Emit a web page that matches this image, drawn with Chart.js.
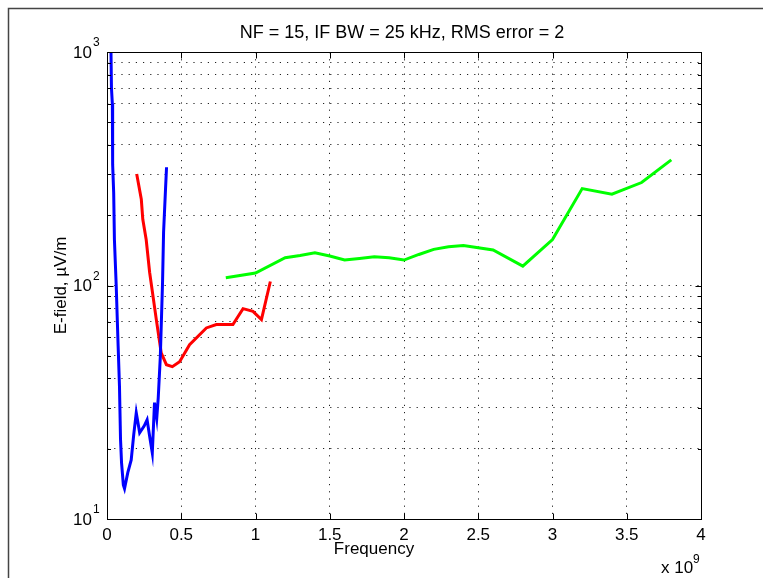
<!DOCTYPE html>
<html lang="en">

<head>
    <meta charset="UTF-8">
    <title>E-field vs Frequency</title>
    <script src="https://cdn.jsdelivr.net/npm/chart.js"></script>
    <style>
        body { margin: 0; background: #fff; }
        canvas { display: block; }
    </style>
</head>

<body>
    <canvas id="efield" width="763" height="578"></canvas>

    <script>
        // frequency in units of 1e9 Hz, field strength in uV/m
        var blueFreq = [0.026, 0.030, 0.036, 0.038, 0.045, 0.050, 0.062, 0.075, 0.084, 0.091, 0.098, 0.110, 0.118,
            0.140, 0.163, 0.180, 0.197, 0.220, 0.250, 0.270, 0.290, 0.305, 0.320, 0.335, 0.345, 0.359, 0.374, 0.381, 0.394, 0.401];
        var blueField = [1100, 700, 600, 330, 250, 157, 100, 55, 37, 22, 17.4, 14, 13.5,
            15.8, 17.9, 23, 28.5, 23.4, 25, 26.6, 22, 19.2, 31.5, 27, 33, 49.5, 103, 169, 258, 321];

        var redFreq = [0.200, 0.231, 0.241, 0.264, 0.287, 0.332, 0.365, 0.400, 0.440, 0.489, 0.556, 0.669, 0.736, 0.848,
            0.916, 0.983, 1.040, 1.100];
        var redField = [300, 234, 192, 157, 114, 71.5, 51.5, 45.8, 44.9, 47.2, 55.8, 65.8, 68, 68,
            79.6, 77.5, 71.5, 104];

        var greenFreq = [0.8, 1.0, 1.2, 1.3, 1.4, 1.5, 1.6, 1.7, 1.8, 1.9, 2.0, 2.1, 2.2, 2.3, 2.4, 2.6, 2.8, 3.0, 3.2, 3.4, 3.6, 3.8];
        var greenField = [108, 113, 131.6, 134.5, 138, 133.7, 128.5, 130.6, 132.8, 131.6, 128.5, 135.8, 142.8, 146.6,
            148.5, 141.9, 121, 157.4, 260, 246, 276, 345];

        var xTickStep = 0.5;
        var yTickValues = [10, 100, 1000];
        var yTickExps = ['1', '2', '3'];
        var yGridValues = [10, 20, 30, 40, 50, 60, 70, 80, 90, 100, 200, 300, 400, 500, 600, 700, 800, 900, 1000];

        var FONT = "'Liberation Sans', Arial, Helvetica, sans-serif";

        function pts(xs, ys) {
            return xs.map(function (v, i) { return { x: v, y: ys[i] }; });
        }

        // matlab style frame, inward ticks and texts
        var matlabAxes = {
            id: 'matlabAxes',
            beforeDraw: function (chart) {
                var ctx = chart.ctx;
                ctx.save();
                ctx.fillStyle = '#fff';
                ctx.fillRect(0, 0, chart.width, chart.height);
                ctx.strokeStyle = '#444';
                ctx.lineWidth = 1.5;
                ctx.beginPath();
                ctx.moveTo(8.5, chart.height);
                ctx.lineTo(8.5, 8.5);
                ctx.lineTo(chart.width, 8.5);
                ctx.stroke();
                ctx.restore();
            },
            afterDraw: function (chart) {
                var ctx = chart.ctx;
                var a = chart.chartArea;
                var x = chart.scales.x, y = chart.scales.y;
                var L = Math.round(a.left) + 0.5, R = Math.round(a.right) + 0.5;
                var T = Math.round(a.top) + 0.5, B = Math.round(a.bottom) + 0.5;
                ctx.save();
                ctx.strokeStyle = '#000';
                ctx.lineWidth = 1;
                ctx.strokeRect(L, T, R - L, B - T);

                ctx.beginPath();
                x.ticks.forEach(function (t) {
                    var px = Math.round(x.getPixelForValue(t.value)) + 0.5;
                    ctx.moveTo(px, B); ctx.lineTo(px, B - 6);
                    ctx.moveTo(px, T); ctx.lineTo(px, T + 6);
                });
                yGridValues.forEach(function (v) {
                    var py = Math.round(y.getPixelForValue(v)) + 0.5;
                    var len = yTickValues.indexOf(v) >= 0 ? 6 : 3.5;
                    ctx.moveTo(L, py); ctx.lineTo(L + len, py);
                    ctx.moveTo(R, py); ctx.lineTo(R - len, py);
                });
                ctx.stroke();

                ctx.fillStyle = '#000';
                // y tick labels 10^n
                yTickValues.forEach(function (v, i) {
                    var py = y.getPixelForValue(v);
                    ctx.font = '17px ' + FONT;
                    ctx.textAlign = 'right';
                    ctx.textBaseline = 'middle';
                    ctx.fillText('10', 92, py + 1);
                    ctx.font = '12px ' + FONT;
                    ctx.textAlign = 'left';
                    ctx.textBaseline = 'alphabetic';
                    ctx.fillText(yTickExps[i], 93, py - 6);
                });

                // title
                ctx.font = '18px ' + FONT;
                ctx.textAlign = 'center';
                ctx.textBaseline = 'alphabetic';
                ctx.fillText('NF = 15, IF BW = 25 kHz, RMS error = 2', 402, 38);

                // x label
                ctx.font = '17px ' + FONT;
                ctx.fillText('Frequency', 374, 554);

                // exponent note
                ctx.textAlign = 'left';
                ctx.fillText('x 10', 661, 573);
                ctx.font = '12px ' + FONT;
                ctx.fillText('9', 693, 563);

                // y label
                ctx.font = '17px ' + FONT;
                ctx.translate(61, (a.top + a.bottom) / 2);
                ctx.rotate(-Math.PI / 2);
                ctx.textAlign = 'center';
                ctx.textBaseline = 'middle';
                ctx.fillText('E-field, \u00b5V/m', 0, 0);
                ctx.restore();
            }
        };

        function line(data, color) {
            return {
                data: data,
                borderColor: color,
                backgroundColor: color,
                borderWidth: 3,
                pointRadius: 0,
                tension: 0,
                fill: false
            };
        }

        var ctx = document.getElementById('efield').getContext('2d');
        var chart = new Chart(ctx, {
            type: 'line',
            data: {
                datasets: [
                    line(pts(blueFreq, blueField), '#0000ff'),
                    line(pts(redFreq, redField), '#ff0000'),
                    line(pts(greenFreq, greenField), '#00ff00')
                ]
            },
            options: {
                responsive: false,
                animation: false,
                devicePixelRatio: 1,
                layout: { padding: { left: 0, top: 52, right: 62, bottom: 0 } },
                plugins: {
                    legend: { display: false },
                    tooltip: { enabled: false }
                },
                scales: {
                    x: {
                        type: 'linear',
                        min: 0,
                        max: 4,
                        afterFit: function (s) { s.height = 59; },
                        ticks: {
                            stepSize: xTickStep,
                            maxRotation: 0,
                            padding: 6,
                            color: '#000',
                            font: { family: FONT, size: 17 },
                            callback: function (v) { return String(v); }
                        },
                        grid: { color: '#222', lineWidth: 1, drawTicks: false },
                        border: { display: false, dash: [1.2, 6] }
                    },
                    y: {
                        type: 'logarithmic',
                        min: 10,
                        max: 1000,
                        afterFit: function (s) { s.width = 107; },
                        afterBuildTicks: function (s) {
                            s.ticks = yGridValues.map(function (v) { return { value: v }; });
                        },
                        ticks: { display: false },
                        grid: { color: '#222', lineWidth: 1, drawTicks: false },
                        border: { display: false, dash: [1.2, 6] }
                    }
                }
            },
            plugins: [matlabAxes]
        });
    </script>
</body>

</html>
